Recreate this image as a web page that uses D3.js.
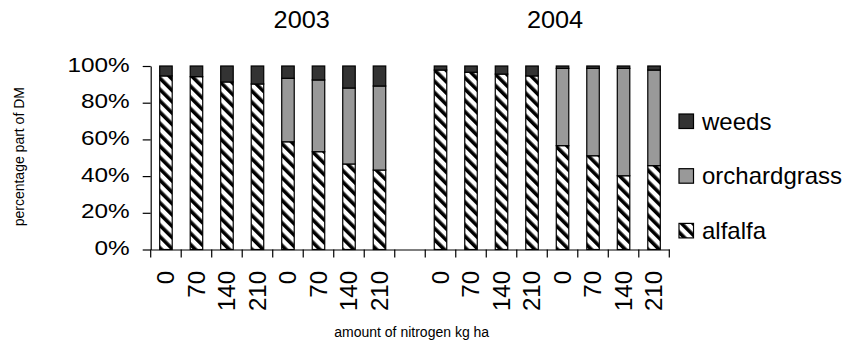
<!DOCTYPE html>
<html>
<head>
<meta charset="utf-8">
<script src="https://cdn.jsdelivr.net/npm/d3@7"></script>
<style>
  body { margin: 0; background: #fff; }
  svg { display: block; }
  text { font-family: "Liberation Sans", Arial, sans-serif; fill: #000; }
</style>
</head>
<body>
<svg id="chart" width="851" height="345"></svg>
<script>
// Botanical composition of dry matter (% of DM) by nitrogen rate, two years
const years = ["2003", "2004"];
const nitrogenRates = ["0", "70", "140", "210", "0", "70", "140", "210"];
const seriesNames = ["alfalfa", "orchardgrass", "weeds"];
const yTickValues = [0, 0.2, 0.4, 0.6, 0.8, 1.0];

const alfalfa2003      = [94.6, 94.2, 91.3, 90.2, 58.7, 53.3, 46.6, 43.3];
const orchardgrass2003 = [0, 0, 0, 0, 34.6, 39.1, 41.4, 45.8];
const weeds2003        = [5.4, 5.8, 8.7, 9.8, 6.7, 7.6, 12.0, 10.9];

const alfalfa2004      = [97.8, 96.6, 95.6, 94.6, 56.6, 51.1, 40.2, 45.7];
const orchardgrass2004 = [0, 0, 0, 0, 42.1, 47.6, 58.5, 52.1];
const weeds2004        = [2.2, 3.4, 4.4, 5.4, 1.3, 1.3, 1.3, 2.2];

const valuesByYear = {
  "2003": { alfalfa: alfalfa2003, orchardgrass: orchardgrass2003, weeds: weeds2003 },
  "2004": { alfalfa: alfalfa2004, orchardgrass: orchardgrass2004, weeds: weeds2004 }
};

// one slot per bar, with an empty slot separating the two years
const rows = [];
const slots = [];
years.forEach((yr, yi) => {
  if (yi > 0) slots.push("gap");
  nitrogenRates.forEach((n, i) => {
    const slot = yr + "-" + i;
    slots.push(slot);
    rows.push({
      slot, label: n,
      alfalfa: valuesByYear[yr].alfalfa[i],
      orchardgrass: valuesByYear[yr].orchardgrass[i],
      weeds: valuesByYear[yr].weeds[i]
    });
  });
});
const labelOf = Object.fromEntries(rows.map(r => [r.slot, r.label]));

const svg = d3.select("#chart");
const plotLeft = 150.7, plotRight = 669.3, plotTop = 66, plotBottom = 249.5;

const x = d3.scaleBand().domain(slots).range([plotLeft, plotRight]).paddingInner(0).paddingOuter(0);
const y = d3.scaleLinear().domain([0, 1]).range([plotBottom, plotTop]);
const barW = x.bandwidth() * 0.41;
const barOff = (x.bandwidth() - barW) / 2;

// hatch for alfalfa
const defs = svg.append("defs");
const pat = defs.append("pattern")
  .attr("id", "hatch")
  .attr("patternUnits", "userSpaceOnUse")
  .attr("width", 8).attr("height", 8)
  .attr("patternTransform", "rotate(-45)");
pat.append("rect").attr("width", 8).attr("height", 8).attr("fill", "#fff");
pat.append("rect").attr("width", 3.6).attr("height", 8).attr("fill", "#000");

const fills = { alfalfa: "url(#hatch)", orchardgrass: "#999999", weeds: "#333333" };

// stacked bars normalized to 100%
const stacked = d3.stack().keys(seriesNames).offset(d3.stackOffsetExpand)(rows);

svg.append("g").selectAll("g")
  .data(stacked)
  .join("g")
  .attr("fill", d => fills[d.key])
  .selectAll("rect")
  .data(d => d.filter(p => p[1] - p[0] > 0))
  .join("rect")
  .attr("x", d => x(d.data.slot) + barOff)
  .attr("width", barW)
  .attr("y", d => y(d[1]))
  .attr("height", d => y(d[0]) - y(d[1]))
  .attr("stroke", "#000")
  .attr("stroke-width", 1.2);

// y axis
const yAxis = svg.append("g")
  .attr("transform", `translate(${plotLeft},0)`)
  .call(d3.axisLeft(y).tickValues(yTickValues).tickFormat(d3.format(".0%")).tickSize(8).tickSizeOuter(0));
yAxis.selectAll("line, path").attr("stroke", "#000").attr("stroke-width", 1.2);
yAxis.selectAll("text")
  .attr("x", 0).attr("dy", 0)
  .attr("text-anchor", "end")
  .attr("font-size", 21)
  .attr("transform", "translate(-21,5) scale(1.16,1)");

// x axis with labels at bar centres
const xAxis = svg.append("g")
  .attr("transform", `translate(0,${plotBottom})`)
  .call(d3.axisBottom(x).tickSize(0).tickSizeOuter(0).tickFormat(s => labelOf[s] || ""));
xAxis.select("path").attr("stroke", "#000").attr("stroke-width", 1.2);
xAxis.selectAll("text")
  .attr("x", 0).attr("y", 0)
  .attr("dy", "0.35em")
  .attr("text-anchor", "end")
  .attr("font-size", 24)
  .attr("transform", "translate(0,21.5) rotate(-90)");

// category boundary ticks
const boundaries = slots.map(s => x(s)).concat([plotRight]);
xAxis.append("g").selectAll("line")
  .data(boundaries)
  .join("line")
  .attr("x1", d => d).attr("x2", d => d)
  .attr("y1", 0).attr("y2", 8)
  .attr("stroke", "#000").attr("stroke-width", 1.2);

// year titles
const yearTitleX = [301.7, 555];
svg.append("g").selectAll("text")
  .data(years)
  .join("text")
  .attr("text-anchor", "middle")
  .attr("font-size", 23)
  .attr("transform", (d, i) => `translate(${yearTitleX[i]},28.3) scale(1.1,1)`)
  .text(d => d);

// axis titles
svg.append("text")
  .attr("text-anchor", "middle")
  .attr("font-size", 14)
  .attr("transform", "translate(24,156.7) rotate(-90)")
  .text("percentage part of DM");

svg.append("text")
  .attr("text-anchor", "middle")
  .attr("font-size", 14)
  .attr("x", 411.7).attr("y", 337)
  .text("amount of nitrogen kg ha");

// legend, top to bottom: weeds, orchardgrass, alfalfa
const legendOrder = seriesNames.slice().reverse();
const legend = svg.append("g").selectAll("g")
  .data(legendOrder)
  .join("g")
  .attr("transform", (d, i) => `translate(679,${114 + i * 54.7})`);
legend.append("rect")
  .attr("width", 14.5).attr("height", 14.5)
  .attr("fill", d => fills[d])
  .attr("stroke", "#000").attr("stroke-width", 1.2);
legend.append("text")
  .attr("x", 23).attr("y", 15.5)
  .attr("font-size", 24)
  .text(d => d);
</script>
</body>
</html>
